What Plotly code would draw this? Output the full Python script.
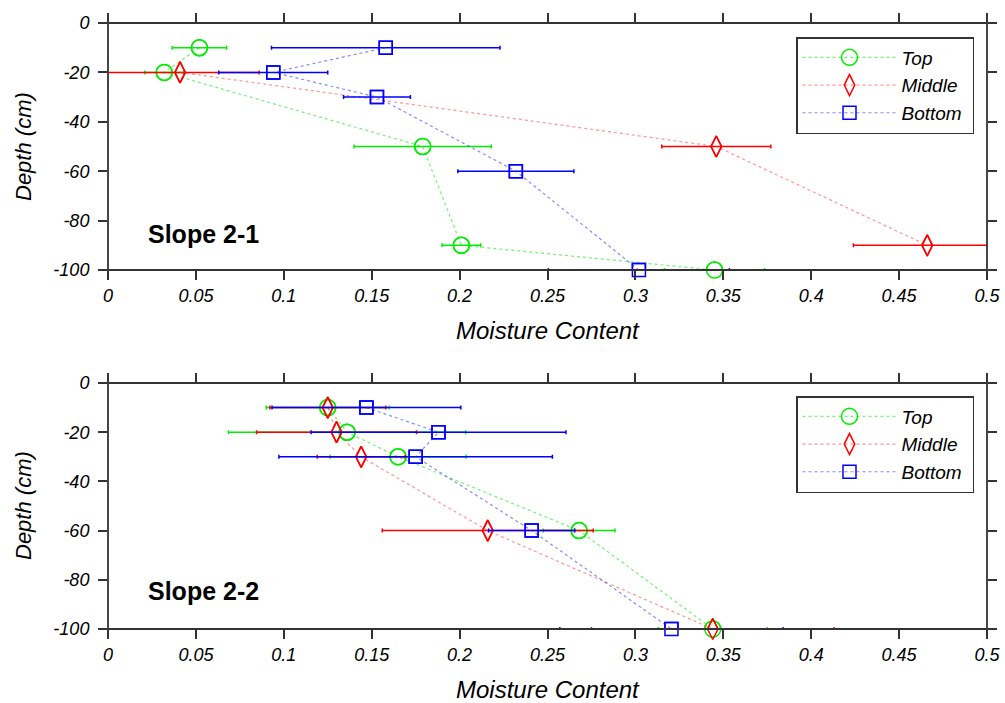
import plotly.graph_objects as go

W, H = 1005, 703

# ---------------- data ----------------
# Slope 2-1
s1_top_depth = [-10, -20, -50, -90, -100]
s1_top_mc = [0.052, 0.032, 0.179, 0.201, 0.345]
s1_top_err = [0.0155, 0.011, 0.039, 0.011, 0.0285]

s1_mid_depth = [-20, -50, -90]
s1_mid_mc = [0.041, 0.346, 0.466]
s1_mid_err = [0.045, 0.031, 0.042]

s1_bot_depth = [-10, -20, -30, -60, -100]
s1_bot_mc = [0.158, 0.094, 0.153, 0.232, 0.302]
s1_bot_err = [0.065, 0.031, 0.019, 0.033, 0.0515]

# Slope 2-2
s2_top_depth = [-10, -20, -30, -60, -100]
s2_top_mc = [0.125, 0.136, 0.165, 0.268, 0.344]
s2_top_err = [0.035, 0.0675, 0.0387, 0.0204, 0.031]

s2_mid_depth = [-10, -20, -30, -60, -100]
s2_mid_mc = [0.125, 0.130, 0.144, 0.216, 0.344]
s2_mid_err = [0.033, 0.0455, 0.025, 0.060, 0.069]

s2_bot_depth = [-10, -20, -30, -60, -100]
s2_bot_mc = [0.147, 0.188, 0.175, 0.241, 0.3205]
s2_bot_err = [0.0537, 0.0725, 0.0778, 0.0245, 0.0635]

x_ticks = [0, 0.05, 0.1, 0.15, 0.2, 0.25, 0.3, 0.35, 0.4, 0.45, 0.5]
x_tick_text = ["0", "0.05", "0.1", "0.15", "0.2", "0.25", "0.3", "0.35", "0.4", "0.45", "0.5"]
y_ticks = [0, -20, -40, -60, -80, -100]
y_tick_text = ["0", "-20", "-40", "-60", "-80", "-100"]

series_names = ["Top", "Middle", "Bottom"]
colors = ["#00EE00", "#FF0000", "#0000FF"]
line_colors = ["rgba(0,230,0,0.55)", "rgba(255,60,60,0.55)", "rgba(40,40,255,0.55)"]
symbols = ["circle-open", "diamond-tall-open", "square-open"]
sizes = [16, 15, 13]

FONT = "Liberation Sans, Arial, sans-serif"
AXIS_COLOR = "#333333"

fig = go.Figure()

panels = [
    (("x", "y"), "legend",
     [(s1_top_mc, s1_top_depth, s1_top_err),
      (s1_mid_mc, s1_mid_depth, s1_mid_err),
      (s1_bot_mc, s1_bot_depth, s1_bot_err)]),
    (("x2", "y2"), "legend2",
     [(s2_top_mc, s2_top_depth, s2_top_err),
      (s2_mid_mc, s2_mid_depth, s2_mid_err),
      (s2_bot_mc, s2_bot_depth, s2_bot_err)]),
]

for (xa, ya), leg, series in panels:
    for i, (mc, d, e) in enumerate(series):
        marker = dict(symbol=symbols[i], size=sizes[i], color=colors[i],
                      line=dict(color=colors[i], width=1.5))
        # lines + error bars (clipped to the plot area)
        fig.add_trace(go.Scatter(
            x=mc, y=d, xaxis=xa, yaxis=ya, legend=leg,
            name=series_names[i] + "\u00a0", mode="lines+markers",
            line=dict(color=line_colors[i], width=1.2, dash="dot"),
            marker=marker,
            error_x=dict(type="data", array=e, visible=True, color=colors[i],
                         thickness=1.5, width=2),
            cliponaxis=True,
        ))
        # markers drawn unclipped on top
        fig.add_trace(go.Scatter(
            x=mc, y=d, xaxis=xa, yaxis=ya, legend=leg,
            name=series_names[i], mode="markers", showlegend=False,
            marker=marker, cliponaxis=False, hoverinfo="skip",
        ))

def px_x(p):
    return p / W

def px_y(p):
    return 1 - p / H

xdom = [px_x(108), px_x(987)]
y1dom = [px_y(270), px_y(23)]
y2dom = [px_y(629), px_y(383)]

axis_common = dict(
    showline=False, mirror="ticks",
    ticks="outside", ticklen=9, tickwidth=1.5, tickcolor=AXIS_COLOR,
    showgrid=False, zeroline=False, automargin=False,
    tickfont=dict(family=FONT, size=18, color="#000000", style="italic"),
)

xaxis_common = dict(axis_common, range=[0, 0.5], tickmode="array",
                    tickvals=x_ticks, ticktext=x_tick_text, domain=xdom)
yaxis_common = dict(axis_common, range=[-100, 0], tickmode="array",
                    tickvals=y_ticks, ticktext=y_tick_text, ticklabelstandoff=5)

legend_common = dict(
    bgcolor="white", bordercolor=AXIS_COLOR, borderwidth=1.5,
    font=dict(family=FONT, size=19, color="#000000", style="italic"),
    xanchor="right", yanchor="top", itemwidth=94, tracegroupgap=0,
)

# frame of each panel drawn above the data
shapes = []
for xr, yr in [("x domain", "y domain"), ("x2 domain", "y2 domain")]:
    shapes.append(dict(type="rect", xref=xr, yref=yr, x0=0, x1=1, y0=0, y1=1,
                       line=dict(color=AXIS_COLOR, width=1.8), layer="above"))

annotations = []
for ycenter, label in [(234, "Slope 2-1"), (591, "Slope 2-2")]:
    annotations.append(dict(
        x=px_x(146), y=px_y(ycenter), xref="paper", yref="paper",
        xanchor="left", yanchor="middle", showarrow=False, text=label,
        font=dict(family=FONT, size=25, color="#000000", weight="bold")))
for ycenter in [330, 689]:
    annotations.append(dict(
        x=px_x(548), y=px_y(ycenter), xref="paper", yref="paper",
        xanchor="center", yanchor="middle", showarrow=False,
        text="Moisture Content",
        font=dict(family=FONT, size=24, color="#000000", style="italic")))
for ycenter in [147, 506]:
    annotations.append(dict(
        x=px_x(23), y=px_y(ycenter), xref="paper", yref="paper",
        xanchor="center", yanchor="middle", showarrow=False,
        text="Depth (cm)", textangle=-90,
        font=dict(family=FONT, size=22, color="#000000", style="italic")))

fig.update_layout(
    width=W, height=H,
    margin=dict(l=0, r=0, t=0, b=0, autoexpand=False),
    paper_bgcolor="white", plot_bgcolor="white",
    showlegend=True,
    xaxis=dict(xaxis_common, anchor="y"),
    yaxis=dict(yaxis_common, domain=y1dom, anchor="x"),
    xaxis2=dict(xaxis_common, anchor="y2"),
    yaxis2=dict(yaxis_common, domain=y2dom, anchor="x2"),
    legend=dict(legend_common, x=px_x(974), y=px_y(37)),
    legend2=dict(legend_common, x=px_x(974), y=px_y(396)),
    shapes=shapes,
    annotations=annotations,
)

fig.write_html("out.html")
